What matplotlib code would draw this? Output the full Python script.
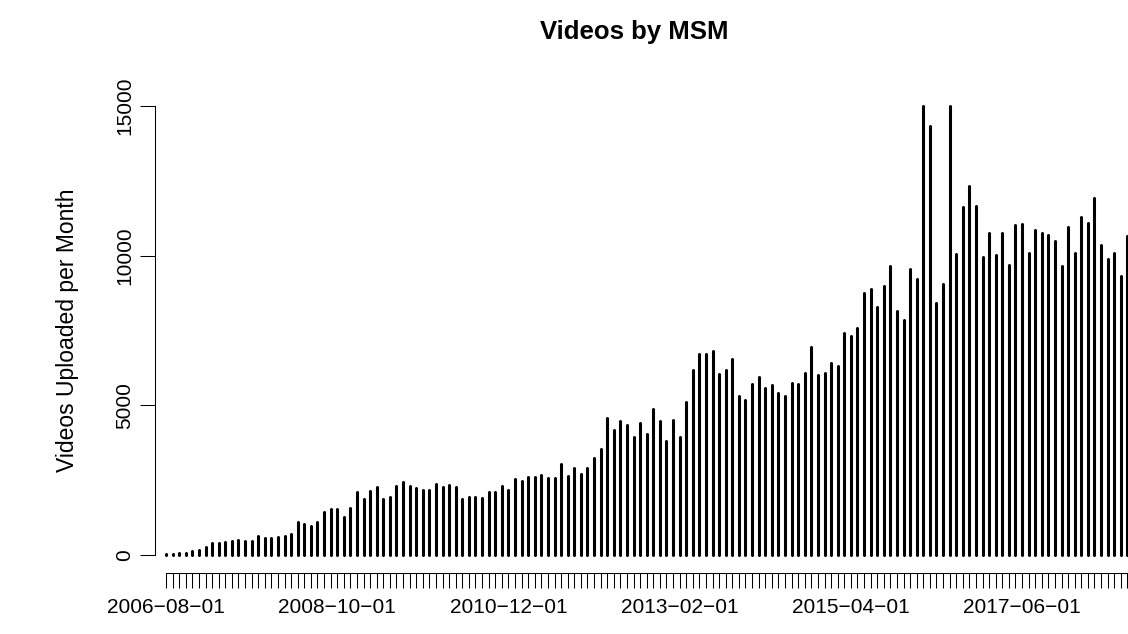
import numpy as np
import pandas as pd
import matplotlib
matplotlib.use("Agg")
import matplotlib.pyplot as plt

plt.rcParams['font.family'] = ['Liberation Sans', 'DejaVu Sans']

# monthly uploads, first month 2006-08
months = pd.date_range('2006-08-01', periods=147, freq='MS')
uploads = [
    30, 30, 60, 80, 130, 160, 280, 390, 390, 420,
    470, 500, 470, 470, 620, 555, 570, 610, 620, 690,
    1090, 1050, 970, 1120, 1425, 1540, 1545, 1270, 1565, 2120,
    1885, 2130, 2275, 1860, 1925, 2310, 2425, 2305, 2230, 2160,
    2160, 2380, 2265, 2330, 2265, 1880, 1925, 1925, 1905, 2090,
    2105, 2315, 2170, 2530, 2480, 2595, 2620, 2665, 2575, 2575,
    3045, 2645, 2895, 2705, 2915, 3250, 3550, 4570, 4160, 4470,
    4340, 3940, 4410, 4040, 4886, 4470, 3820, 4500, 3945, 5115,
    6190, 6730, 6730, 6810, 6055, 6165, 6540, 5300, 5190, 5710,
    5945, 5565, 5665, 5420, 5320, 5730, 5700, 6090, 6955, 6000,
    6090, 6410, 6310, 7425, 7325, 7570, 8760, 8895, 8270, 8970,
    9650, 8135, 7845, 9550, 9225, 15000, 14315, 8425, 9040, 15000,
    10060, 11630, 12320, 11675, 9960, 10750, 10015, 10750, 9695, 11030,
    11065, 10095, 10850, 10750, 10705, 10505, 9670, 10965, 10105, 11275,
    11075, 11930, 10350, 9895, 10095, 9305, 10650,
]
label_every = 26
y_ticks = [0, 5000, 10000, 15000]

x = np.arange(len(months))
labels = [d.strftime('%Y\u2212%m\u2212%d') for d in months]

W, H = 1128, 634
fig = plt.figure(figsize=(W / 100, H / 100), dpi=100)
ax = fig.add_axes([155 / W, (H - 573) / H, (W - 155) / W, (573 - 88) / H])

ax.vlines(x, 0, uploads, color='black', linewidth=2.2, capstyle='round')

ax.set_xlim(-11 / 6.585, 962 / 6.585)
ax.set_ylim(-600, 15600)

for s in ['top', 'right']:
    ax.spines[s].set_visible(False)
ax.spines['bottom'].set_bounds(0, len(months) - 1)
ax.spines['left'].set_bounds(0, 15000)
for s in ['bottom', 'left']:
    ax.spines[s].set_linewidth(0.75)

ax.set_xticks(x, minor=True)
ax.set_xticks(x[::label_every])
ax.set_xticklabels(labels[::label_every])
ax.set_yticks(y_ticks)
ax.set_yticklabels([str(v) for v in y_ticks], rotation=90, va='center')
ax.tick_params(axis='both', which='both', length=10.8, width=0.75,
               labelsize=15)
ax.tick_params(axis='x', pad=7)
ax.tick_params(axis='y', pad=4)
ax.tick_params(axis='x', which='minor', labelbottom=False)

ax.set_ylabel('Videos Uploaded per Month', fontsize=16.5, labelpad=26)
fig.text((155 + 1113) / 2 / W, 1 - 32 / H, 'Videos by MSM',
         ha='center', va='center', fontsize=18.5, fontweight='bold')

fig.savefig('out.png', dpi=100)
